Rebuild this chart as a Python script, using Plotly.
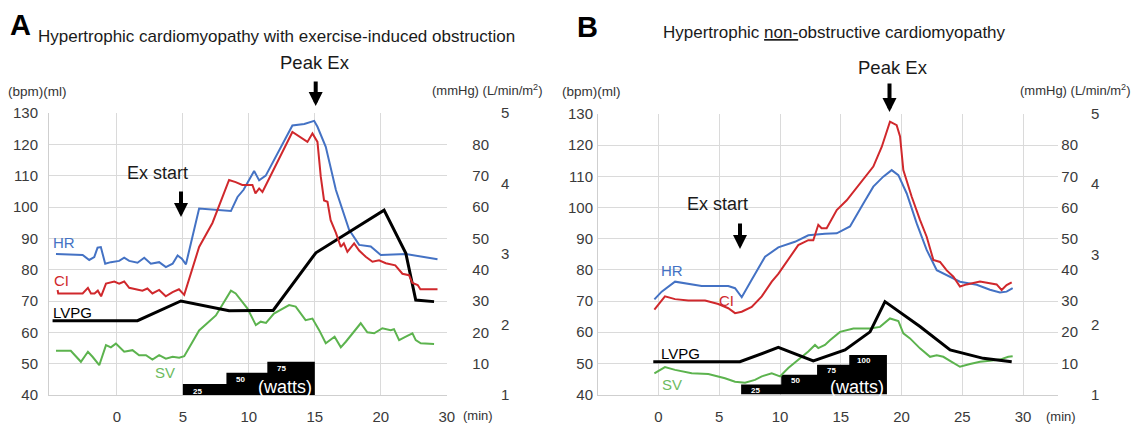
import plotly.graph_objects as go

W, H = 1136, 425
FONT = "Liberation Sans, Arial, sans-serif"

# ---------------- Panel A data (time in min) ----------------
A_HR_T = [-4.62, -2.6, -2.1, -1.72, -1.47, -1.22, -0.89, -0.46, 0.17, 0.55, 0.93, 1.56, 2.07, 2.57, 3.2,
          3.71, 4.22, 4.6, 4.92, 5.23, 6.23, 8.64, 9.14, 9.6, 10.4, 10.78, 11.28, 13.3, 14.2, 14.95,
          15.2, 15.83, 16.6, 17.6, 18.36, 19.24, 20.0, 21.9, 24.3]
A_HR = [85.0, 84.7, 83.1, 84.0, 87.0, 87.2, 81.9, 82.4, 82.8, 83.8, 82.8, 82.2, 83.8, 81.9, 82.4,
        80.8, 81.9, 84.5, 83.5, 81.7, 99.5, 98.7, 103.2, 105.5, 111.5, 108.5, 110.0, 126.0, 126.5, 127.5,
        125.6, 119.2, 105.4, 92.7, 87.9, 87.4, 84.7, 85.0, 83.3]

A_CI_T = [-4.5, -4.45, -2.6, -2.2, -1.97, -1.7, -1.45, -1.2, -0.83, -0.2, 0.17, 0.55, 0.93, 1.43, 1.93,
          2.31, 2.69, 3.2, 3.7, 4.22, 4.7, 5.1, 6.23, 7.24, 8.5, 9.0, 9.5, 10.27, 10.5, 10.78,
          11.03, 13.3, 14.44, 14.82, 15.2, 15.45, 15.7, 15.96, 16.2, 16.6, 16.97, 17.2, 17.47, 17.98, 18.36,
          18.86, 19.37, 19.87, 20.38, 21.1, 21.64, 22.14, 22.4, 22.8, 23.0, 24.3]
A_CI = [2.49, 2.44, 2.44, 2.52, 2.44, 2.44, 2.48, 2.40, 2.58, 2.61, 2.58, 2.61, 2.52, 2.50, 2.48,
        2.51, 2.44, 2.49, 2.40, 2.46, 2.50, 2.42, 3.10, 3.44, 4.05, 4.02, 3.98, 3.98, 3.86, 3.93,
        3.88, 4.73, 4.59, 4.71, 4.59, 4.10, 3.76, 3.74, 3.48, 3.30, 3.10, 3.15, 3.03, 3.15, 3.05,
        2.96, 2.89, 2.91, 2.87, 2.84, 2.72, 2.70, 2.59, 2.56, 2.50, 2.50]

A_LVPG_T = [-4.88, 1.56, 4.85, 8.5, 11.84, 15.08, 20.25, 21.9, 22.65, 24.04]
A_LVPG = [23.7, 23.7, 30.0, 26.9, 27.0, 45.4, 59.0, 45.2, 30.3, 29.8]

A_SV_T = [-4.62, -3.5, -2.73, -2.2, -1.85, -1.34, -0.83, -0.46, -0.08, 0.55, 1.18, 1.68, 2.2, 2.69, 3.2,
          3.71, 4.22, 4.72, 5.1, 5.48, 6.23, 7.5, 8.64, 9.0, 9.9, 10.53, 10.9, 11.3, 11.9, 13.05,
          13.55, 14.3, 14.82, 15.33, 15.83, 16.5, 16.97, 17.35, 17.85, 18.48, 18.98, 19.5, 20.12, 20.75, 21.0,
          21.39, 21.9, 22.4, 22.65, 23.03, 24.04]
A_SV = [54.1, 54.1, 50.6, 53.8, 52.2, 49.5, 55.9, 55.2, 56.4, 53.8, 54.3, 52.7, 52.7, 51.3, 52.7,
        51.6, 52.2, 51.9, 52.4, 55.3, 60.6, 65.4, 73.3, 72.4, 67.6, 62.3, 63.4, 63.0, 66.0, 68.7,
        68.2, 63.9, 64.4, 60.7, 56.5, 58.6, 55.2, 57.0, 59.7, 62.9, 60.0, 59.7, 61.3, 60.7, 61.0,
        57.5, 58.6, 59.7, 57.5, 56.5, 56.3]

A_WATT_START = [5.0, 8.3, 11.4]
A_WATT_END = 15.0
A_WATTS = [25, 50, 75]

A_XTICKS = [0, 5, 10, 15, 20, 25]
A_XTICKTEXT = ["0", "5", "10", "15", "20", "30"]

# ---------------- Panel B data ----------------
B_HR_T = [-0.34, 0.26, 1.36, 2.45, 3.55, 4.65, 5.74, 6.3, 6.85, 7.67, 8.77, 9.86, 11.23, 12.33, 13.7,
          14.67, 15.76, 16.86, 17.68, 18.5, 19.19, 19.74, 20.43, 21.25, 22.07, 22.9, 23.72, 24.81, 26.19, 27.28,
          28.1, 28.65, 29.15]
B_HR = [70.5, 73.0, 76.2, 75.5, 74.8, 74.8, 74.8, 74.1, 71.2, 76.8, 84.2, 87.2, 89.0, 91.1, 91.6,
        91.7, 93.9, 101.3, 106.7, 109.9, 112.0, 110.4, 104.5, 94.9, 86.4, 79.9, 78.3, 76.2, 75.2, 73.6,
        72.7, 73.0, 74.1]

B_CI_T = [-0.34, 0.53, 1.36, 2.45, 3.83, 4.92, 5.74, 6.3, 6.85, 7.67, 8.5, 9.32, 9.86, 10.68, 11.5,
          12.33, 12.74, 13.15, 13.42, 13.84, 14.67, 15.49, 16.04, 16.86, 17.68, 18.37, 19.05, 19.6, 19.88, 20.15,
          20.84, 21.52, 22.07, 22.62, 23.17, 23.72, 24.27, 24.81, 25.36, 26.46, 27.28, 27.83, 28.24, 28.65, 29.07]
B_CI = [2.21, 2.40, 2.36, 2.34, 2.34, 2.29, 2.23, 2.16, 2.18, 2.25, 2.40, 2.61, 2.72, 2.92, 3.13,
        3.20, 3.20, 3.42, 3.37, 3.37, 3.63, 3.77, 3.89, 4.06, 4.25, 4.53, 4.89, 4.84, 4.68, 4.20,
        3.82, 3.49, 3.25, 2.92, 2.89, 2.77, 2.68, 2.54, 2.57, 2.61, 2.59, 2.57, 2.49, 2.56, 2.60]

B_LVPG_T = [-0.43, 6.7, 9.86, 12.74, 15.35, 17.41, 18.64, 21.52, 24.0, 26.73, 29.07]
B_LVPG = [10.5, 10.5, 15.1, 10.8, 14.3, 20.1, 29.8, 21.8, 14.3, 11.6, 10.5]

B_SV_T = [-0.34, 0.53, 1.36, 2.73, 4.1, 5.47, 6.3, 7.12, 7.94, 8.5, 9.32, 10.0, 10.68, 11.5, 12.33,
          12.88, 13.15, 13.7, 14.11, 14.94, 16.04, 17.41, 18.23, 19.05, 19.74, 20.15, 20.7, 21.52, 22.35, 22.9,
          23.44, 24.13, 24.81, 25.64, 26.46, 27.28, 28.1, 28.79, 29.15]
B_SV = [46.8, 48.8, 47.9, 46.8, 46.6, 45.2, 44.1, 43.8, 44.7, 45.8, 46.8, 45.8, 48.5, 51.1, 53.8,
        55.9, 54.9, 55.9, 57.4, 60.1, 61.2, 61.2, 61.7, 64.4, 63.6, 59.6, 58.0, 54.8, 52.1, 52.6,
        52.1, 50.5, 48.9, 49.8, 50.5, 50.8, 51.2, 52.1, 52.3]

B_WATT_START = [6.8, 10.1, 13.05, 15.7]
B_WATT_END = 18.8
B_WATTS = [25, 50, 75, 100]

B_XTICKS = [0, 5, 10, 15, 20, 25, 30]
B_XTICKTEXT = ["0", "5", "10", "15", "20", "25", "30"]

for a, b in [(A_HR_T, A_HR), (A_CI_T, A_CI), (A_LVPG_T, A_LVPG), (A_SV_T, A_SV),
             (B_HR_T, B_HR), (B_CI_T, B_CI), (B_LVPG_T, B_LVPG), (B_SV_T, B_SV)]:
    assert len(a) == len(b)

# ---------------- styles ----------------
C_HR = "#4472C4"
C_CI = "#D0282C"
C_SV = "#5CB34E"
C_LV = "#000000"
GRID = "#DADADA"
TICK = dict(family=FONT, size=15, color="#3A3A3A")


def px(x):
    return x / W


def py(y):
    return 1 - y / H


fig = go.Figure()


def add_panel(xa, ybase, ymm, yci, hr, ci, lv, sv, wstart, wend, watts, k, lab_dx, lab_dy):
    # watts step boxes
    xs, ys = [wstart[0]], [40]
    for i, s in enumerate(wstart):
        top = 40 + watts[i] * k
        e = wstart[i + 1] if i + 1 < len(wstart) else wend
        xs += [s, e]
        ys += [top, top]
    xs += [wend]
    ys += [40]
    fig.add_trace(go.Scatter(x=xs, y=ys, xaxis=xa, yaxis=ybase, mode="lines", fill="toself",
                             fillcolor="black", line=dict(width=0, color="black"), hoverinfo="skip"))
    for i, s in enumerate(wstart):
        top = 40 + watts[i] * k
        fig.add_annotation(x=s + lab_dx, y=top - lab_dy, xref=xa, yref=ybase, text="<b>%d</b>" % watts[i],
                           showarrow=False, font=dict(family=FONT, size=8, color="white"))
    fig.add_trace(go.Scatter(x=sv[0], y=sv[1], xaxis=xa, yaxis=ybase, mode="lines",
                             line=dict(color=C_SV, width=2)))
    fig.add_trace(go.Scatter(x=lv[0], y=lv[1], xaxis=xa, yaxis=ymm, mode="lines",
                             line=dict(color=C_LV, width=3)))
    fig.add_trace(go.Scatter(x=ci[0], y=ci[1], xaxis=xa, yaxis=yci, mode="lines",
                             line=dict(color=C_CI, width=2)))
    fig.add_trace(go.Scatter(x=hr[0], y=hr[1], xaxis=xa, yaxis=ybase, mode="lines",
                             line=dict(color=C_HR, width=2)))


add_panel("x", "y", "y2", "y3", (A_HR_T, A_HR), (A_CI_T, A_CI), (A_LVPG_T, A_LVPG), (A_SV_T, A_SV),
          A_WATT_START, A_WATT_END, A_WATTS, 0.142, 1.1, 2.3)
add_panel("x2", "y4", "y5", "y6", (B_HR_T, B_HR), (B_CI_T, B_CI), (B_LVPG_T, B_LVPG), (B_SV_T, B_SV),
          B_WATT_START, B_WATT_END, B_WATTS, 0.127, 1.2, 1.9)

xcommon = dict(showgrid=True, gridcolor=GRID, gridwidth=1, zeroline=False, tickfont=TICK,
               showline=True, linecolor="#CFCFCF", linewidth=1, tickmode="array", automargin=False,
               ticks="outside", ticklen=8, tickcolor="rgba(0,0,0,0)")
ycommon = dict(showgrid=True, gridcolor=GRID, gridwidth=1, zeroline=False, tickfont=TICK,
               showline=True, linecolor="#CFCFCF", linewidth=1, dtick=10, automargin=False,
               ticks="outside", tickcolor="rgba(0,0,0,0)")
rcommon = dict(showgrid=False, zeroline=False, showline=False, tickfont=TICK, anchor="free",
               side="right", ticks="", automargin=False)

fig.update_layout(
    width=W, height=H, margin=dict(l=0, r=0, t=0, b=0, autoexpand=False),
    paper_bgcolor="white", plot_bgcolor="white", showlegend=False, hovermode=False,
    xaxis=dict(xcommon, domain=[px(49), px(447)], range=[-5.15, 25.02], tickvals=A_XTICKS,
               ticktext=A_XTICKTEXT, anchor="y"),
    yaxis=dict(ycommon, domain=[py(395), py(113)], range=[40, 130], anchor="x", ticklen=7),
    yaxis2=dict(rcommon, overlaying="y", range=[0, 90], dtick=10, position=px(492),
                ticklabelposition="inside"),
    yaxis3=dict(rcommon, overlaying="y", range=[1, 5], dtick=1, position=px(500)),
    xaxis2=dict(xcommon, domain=[px(598), px(1058)], range=[-4.98, 32.88], tickvals=B_XTICKS,
                ticktext=B_XTICKTEXT, anchor="y4"),
    yaxis4=dict(ycommon, domain=[py(394.5), py(114)], range=[40, 130], anchor="x2", ticklen=1),
    yaxis5=dict(rcommon, overlaying="y4", range=[0, 90], dtick=10, position=px(1081),
                ticklabelposition="inside"),
    yaxis6=dict(rcommon, overlaying="y4", range=[1, 5], dtick=1, position=px(1090)),
)


def txt(text, x, y, size, color="#1A1A1A", xanchor="left", yanchor="middle"):
    fig.add_annotation(text=text, x=px(x), y=py(y), xref="paper", yref="paper", showarrow=False,
                       xanchor=xanchor, yanchor=yanchor, font=dict(family=FONT, size=size, color=color))


def arrow(x, y_head, y_tail):
    fig.add_annotation(text="", x=px(x), y=py(y_head), xref="paper", yref="paper", showarrow=True,
                       ax=0, ay=-(y_head - y_tail), arrowhead=2, arrowsize=0.7, arrowwidth=4,
                       arrowcolor="black")


# panel letters and titles
txt("<b>A</b>", 8, 25, 29, "black")
txt("Hypertrophic cardiomyopathy with exercise-induced obstruction", 36, 37, 17)
txt("<b>B</b>", 575, 27, 29, "black")
txt("Hypertrophic <u>non-</u>obstructive cardiomyopathy", 661, 32, 17)

# unit headers
txt("(bpm)(ml)", 6, 91, 13.5, "#333")
txt("(mmHg) (L/min/m<sup>2</sup>)", 430, 90, 13, "#333")
txt("(bpm)(ml)", 560, 91, 13.5, "#333")
txt("(mmHg) (L/min/m<sup>2</sup>)", 1018, 90, 13, "#333")
txt("(min)", 478, 415, 13, "#333", xanchor="center")
txt("(min)", 1061, 416, 13, "#333", xanchor="center")

# event markers
txt("Peak Ex", 315, 63, 18.5, xanchor="center")
arrow(315.7, 106, 80)
txt("Ex start", 125, 173, 18)
arrow(181, 217, 190)
txt("Peak Ex", 893, 67, 18.5, xanchor="center")
arrow(889.5, 112, 82)
txt("Ex start", 685, 204, 18)
arrow(740, 249, 222)

# series labels
txt("HR", 64, 242, 15, C_HR, xanchor="center")
txt("CI", 62, 280, 15, C_CI, xanchor="center")
txt("LVPG", 72, 312, 15, "black", xanchor="center")
txt("SV", 165, 372, 15, "#6DBB5F", xanchor="center")
txt("HR", 672, 270, 15, C_HR, xanchor="center")
txt("CI", 726, 300, 15, C_CI, xanchor="center")
txt("LVPG", 680, 353, 15, "black", xanchor="center")
txt("SV", 672, 384, 15, "#6DBB5F", xanchor="center")

# watts captions
fig.add_annotation(text="(watts)", x=12.77, y=42.6, xref="x", yref="y", showarrow=False,
                   font=dict(family=FONT, size=18, color="white"))
fig.add_annotation(text="(watts)", x=16.3, y=42.4, xref="x2", yref="y4", showarrow=False,
                   font=dict(family=FONT, size=18, color="white"))

fig.write_html("out.html", config={"displayModeBar": False},
               post_script="document.body.style.margin='0';")
